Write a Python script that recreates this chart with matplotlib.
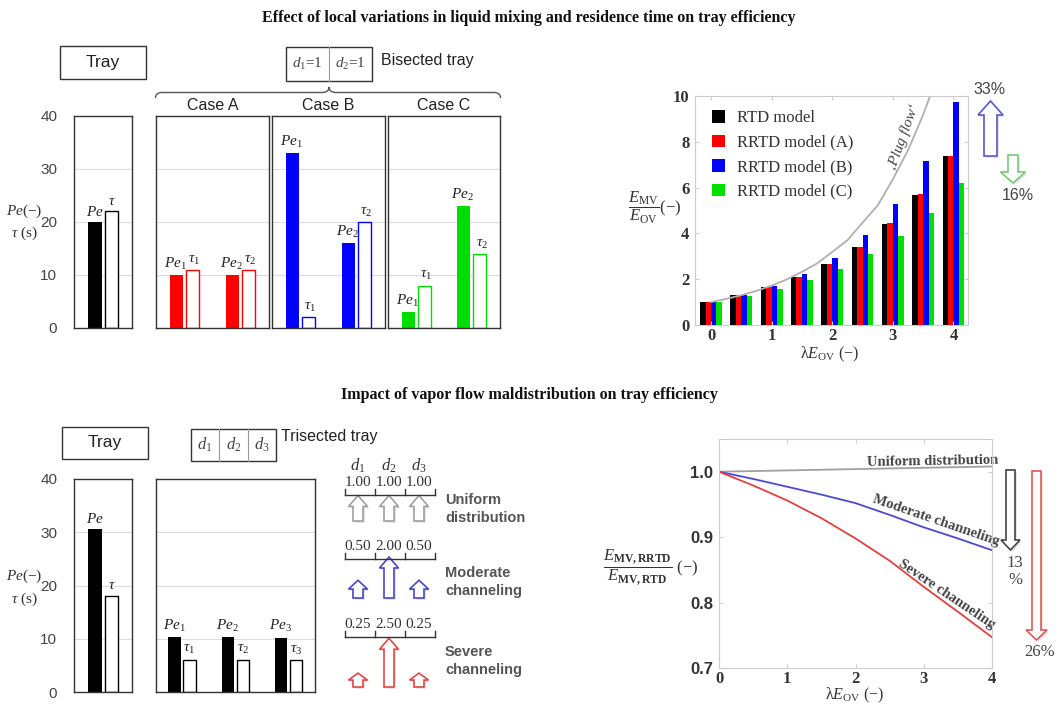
import matplotlib
matplotlib.use('Agg')
import matplotlib.pyplot as plt
from matplotlib.patches import Rectangle, Polygon, PathPatch
from matplotlib.path import Path

W, H = 1058, 704
plt.rcParams['mathtext.fontset'] = 'custom'
plt.rcParams['mathtext.rm'] = 'Liberation Serif'
plt.rcParams['mathtext.it'] = 'Liberation Serif:italic'
plt.rcParams['mathtext.bf'] = 'Liberation Serif:bold'
SERIF = ['Liberation Serif', 'DejaVu Serif']
SANS = ['Liberation Sans', 'DejaVu Sans']

# ---------------- data ----------------
title_top = 'Effect of local variations in liquid mixing and residence time on tray efficiency'
title_bottom = 'Impact of vapor flow maldistribution on tray efficiency'

tray_top = [20, 22]            # Pe, tau of single tray (top)
caseA_pe = [10, 10]
caseA_tau = [11, 11]
caseB_pe = [33, 16]
caseB_tau = [2, 20]
caseC_pe = [3, 23]
caseC_tau = [8, 14]
case_names = ['Case A', 'Case B', 'Case C']
case_colors = ['#ff0000', '#0000ff', '#00dd00']

lam = [0, 0.5, 1, 1.5, 2, 2.5, 3, 3.5, 4]
rtd = [1.0, 1.30, 1.66, 2.10, 2.65, 3.41, 4.43, 5.68, 7.37]
rrtd_a = [1.0, 1.30, 1.66, 2.10, 2.65, 3.41, 4.44, 5.72, 7.40]
rrtd_b = [1.0, 1.32, 1.72, 2.22, 2.93, 3.92, 5.27, 7.16, 9.75]
rrtd_c = [1.0, 1.28, 1.58, 1.98, 2.45, 3.08, 3.88, 4.90, 6.20]
series_labels = ['RTD model', 'RRTD model (A)', 'RRTD model (B)', 'RRTD model (C)']
series_colors = ['#000000', '#ff0000', '#0000ff', '#00e000']
plug_lam = [0, 0.25, 0.5, 0.75, 1, 1.25, 1.5, 1.75, 2, 2.25, 2.5, 2.75, 3, 3.25, 3.5, 3.62]
plug_val = [1.0, 1.14, 1.30, 1.49, 1.72, 1.99, 2.32, 2.69, 3.19, 3.70, 4.47, 5.22, 6.36, 7.63, 9.18, 10.04]

tray_bottom = [30.6, 18.1]
tri_pe = [10.3, 10.3, 10.2]
tri_tau = [6.1, 6.1, 6.0]

dist_rows = ['Uniform\ndistribution', 'Moderate\nchanneling', 'Severe\nchanneling']
dist_uniform = [1.00, 1.00, 1.00]
dist_moderate = [0.50, 2.00, 0.50]
dist_severe = [0.25, 2.50, 0.25]
dist_colors = ['#a0a0a0', '#4848c8', '#e04848']

lam2 = [0, 0.5, 1, 1.5, 2, 2.5, 3, 3.5, 4]
eff_uniform = [1.0, 1.001, 1.002, 1.003, 1.004, 1.005, 1.006, 1.007, 1.008]
eff_moderate = [1.0, 0.989, 0.977, 0.965, 0.952, 0.934, 0.915, 0.898, 0.880]
eff_severe = [1.0, 0.979, 0.956, 0.929, 0.898, 0.864, 0.824, 0.786, 0.747]

# ---------------- figure ----------------
fig = plt.figure(figsize=(W / 100, H / 100), dpi=100)
ax0 = fig.add_axes([0, 0, 1, 1])
ax0.set_xlim(0, W)
ax0.set_ylim(H, 0)
ax0.axis('off')


def px_axes(x0, y0, x1, y1):
    a = fig.add_axes([x0 / W, 1 - y1 / H, (x1 - x0) / W, (y1 - y0) / H])
    a.set_facecolor('none')
    return a


def hollow_arrow(cx, base, tip, sw, hw, hl, ec, lw=1.2):
    d = 1 if tip > base else -1
    neck = tip - d * hl
    pts = [(cx - sw / 2, base), (cx - sw / 2, neck), (cx - hw / 2, neck), (cx, tip),
           (cx + hw / 2, neck), (cx + sw / 2, neck), (cx + sw / 2, base)]
    ax0.add_patch(Polygon([(x + 2, y + 2) for x, y in pts], closed=True, fc='black',
                          ec='none', alpha=0.10))
    ax0.add_patch(Polygon(pts, closed=True, fc='white', ec=ec, lw=lw, joinstyle='miter'))


def bar_panel(ax, xlim, show_ticks):
    ax.set_ylim(0, 40)
    ax.set_xlim(*xlim)
    ax.set_yticks([0, 10, 20, 30, 40])
    ax.set_xticks([])
    ax.yaxis.grid(True, color='#dcdcdc', lw=0.8)
    ax.set_axisbelow(True)
    ax.tick_params(axis='y', length=0, labelleft=show_ticks, pad=12,
                   labelsize=11, labelcolor='#444444')
    for lab in ax.get_yticklabels():
        lab.set_family(SANS)
    for s in ax.spines.values():
        s.set_color('#333333')
        s.set_linewidth(1.0)


def blabel(ax, x, y, s):
    ax.text(x, y + 0.6, s, ha='center', va='bottom', fontsize=11, color='#222222')


W_BAR = 0.82
# ---- top left: tray ----
axT = px_axes(74, 116, 132, 328)
bar_panel(axT, (-1.27, 2.24), True)
axT.bar(0, tray_top[0], W_BAR, color='black')
axT.bar(1, tray_top[1], W_BAR, facecolor='white', edgecolor='black', lw=1)
blabel(axT, 0, tray_top[0], r'$Pe$')
blabel(axT, 1, tray_top[1], r'$\tau$')

case_data = [(caseA_pe, caseA_tau), (caseB_pe, caseB_tau), (caseC_pe, caseC_tau)]
case_boxes = [(156, 269), (272, 385), (388, 500)]
pe_pos = [0, 3.5]
tau_pos = [1, 4.5]
for (pe, tau), (x0, x1), col, name in zip(case_data, case_boxes, case_colors, case_names):
    ax = px_axes(x0, 116, x1, 328)
    bar_panel(ax, (-1.28, 5.78), False)
    ax.bar(pe_pos, pe, W_BAR, color=col)
    ax.bar(tau_pos, tau, W_BAR, facecolor='white', edgecolor=col, lw=1)
    for i in range(2):
        blabel(ax, pe_pos[i] - 0.08, pe[i], r'$Pe_%d$' % (i + 1))
        blabel(ax, tau_pos[i] + 0.12, tau[i], r'$\tau_%d$' % (i + 1))
    ax0.text((x0 + x1) / 2, 106, name, ha='center', va='center', fontsize=11.5,
             family=SANS, color='#222222')

# top-left annotations
ax0.text(24, 211, r'$Pe$(−)', ha='center', va='center', fontsize=11, family=SERIF, color='#333')
ax0.text(24, 233, r'$\tau$ (s)', ha='center', va='center', fontsize=11, family=SERIF, color='#333')
ax0.add_patch(Rectangle((60, 46), 86, 33, fill=False, ec='#333', lw=1))
ax0.text(103, 62, 'Tray', ha='center', va='center', fontsize=12.5, family=SANS, color='#222')
ax0.add_patch(Rectangle((286, 47), 86, 34, fill=False, ec='#333', lw=1))
ax0.plot([329, 329], [47, 81], color='#999', lw=0.8)
ax0.text(307.5, 64, r'$d_1$=1', ha='center', va='center', fontsize=11, family=SERIF, color='#444')
ax0.text(350.5, 64, r'$d_2$=1', ha='center', va='center', fontsize=11, family=SERIF, color='#444')
ax0.text(381, 61, 'Bisected tray', ha='left', va='center', fontsize=11.5, family=SANS, color='#222')
verts = [(155.5, 98), (155.5, 92.5), (162, 92.5), (322, 92.5), (329, 92.5), (329, 87),
         (329, 92.5), (336, 92.5), (494, 92.5), (500.5, 92.5), (500.5, 98)]
codes = [Path.MOVETO, Path.CURVE3, Path.CURVE3, Path.LINETO, Path.CURVE3, Path.CURVE3,
         Path.CURVE3, Path.CURVE3, Path.LINETO, Path.CURVE3, Path.CURVE3]
ax0.add_patch(PathPatch(Path(verts, codes), fill=False, ec='#555', lw=1))

# ---- top right: bar chart ----
axR = px_axes(695, 96, 968, 325)
offsets = [-0.135, -0.045, 0.045, 0.135]
for vals, lab, col, off in zip([rtd, rrtd_a, rrtd_b, rrtd_c], series_labels, series_colors, offsets):
    axR.bar([l + off for l in lam], vals, 0.09, color=col, label=lab)
axR.plot(plug_lam, plug_val, color='#b0b0b0', lw=1.3)
axR.set_xlim(-0.264, 4.24)
axR.set_ylim(0, 10)
axR.set_xticks([0, 1, 2, 3, 4])
axR.set_yticks([0, 2, 4, 6, 8, 10])
axR.tick_params(direction='in', length=3, color='#cccccc', top=True, right=True,
                labelsize=12, labelcolor='#333333', pad=4)
axR.tick_params(axis='x', pad=2)
for lab in axR.get_yticklabels():
    lab.set_family(SERIF)
    lab.set_weight('bold')
for lab in axR.get_xticklabels():
    lab.set_family(SERIF)
    lab.set_weight('bold')
for s in axR.spines.values():
    s.set_color('#cccccc')
leg = axR.legend(loc='upper left', bbox_to_anchor=(0.03, 0.975), frameon=False,
                 handlelength=0.8, handleheight=0.8, handletextpad=0.7, labelspacing=0.5,
                 borderpad=0, prop={'family': SERIF, 'size': 12})
for t in leg.get_texts():
    t.set_color('#333333')
ax0.text(903, 137, '‚Plug flow‘', rotation=70, ha='center', va='center', fontsize=11,
         family=SERIF, style='italic', color='#444')
ax0.text(681, 208, r'$\dfrac{E_{\mathrm{MV}}}{E_{\mathrm{OV}}}$(−)', ha='right', va='center',
         fontsize=12, family=SERIF, color='#333')
ax0.text(830, 354, r'λ$E_{\mathrm{OV}}$ (−)', ha='center', va='center', fontsize=11.5,
         family=SERIF, color='#333')
hollow_arrow(990.5, 156, 101, 13, 25, 14, '#5858c8')
hollow_arrow(1013, 155, 183, 10, 25, 11, '#78c878')
ax0.text(990, 90, '33%', ha='center', va='center', fontsize=11.5, family=SANS, color='#444')
ax0.text(1018, 195, '16%', ha='center', va='center', fontsize=11.5, family=SANS, color='#444')

# ---- titles ----
ax0.text(529, 18, title_top, ha='center', va='center', fontsize=11.5, weight='bold',
         family=SERIF, color='#111')
ax0.text(529, 395, title_bottom, ha='center', va='center', fontsize=11.5, weight='bold',
         family=SERIF, color='#111')

# ---- bottom left ----
axB = px_axes(74, 479, 132, 692)
bar_panel(axB, (-1.27, 2.24), True)
axB.bar(0, tray_bottom[0], W_BAR, color='black')
axB.bar(1, tray_bottom[1], W_BAR, facecolor='white', edgecolor='black', lw=1)
blabel(axB, 0, tray_bottom[0], r'$Pe$')
blabel(axB, 1, tray_bottom[1], r'$\tau$')

axB2 = px_axes(156, 479, 315, 692)
bar_panel(axB2, (-1.23, 9.37), False)
tri_pe_pos = [0, 3.55, 7.1]
tri_tau_pos = [1, 4.55, 8.1]
axB2.bar(tri_pe_pos, tri_pe, W_BAR, color='black')
axB2.bar(tri_tau_pos, tri_tau, W_BAR, facecolor='white', edgecolor='black', lw=1)
for i in range(3):
    blabel(axB2, tri_pe_pos[i], tri_pe[i], r'$Pe_%d$' % (i + 1))
    blabel(axB2, tri_tau_pos[i], tri_tau[i], r'$\tau_%d$' % (i + 1))

ax0.text(24, 576, r'$Pe$(−)', ha='center', va='center', fontsize=11, family=SERIF, color='#333')
ax0.text(24, 599, r'$\tau$ (s)', ha='center', va='center', fontsize=11, family=SERIF, color='#333')
ax0.add_patch(Rectangle((62, 427), 86, 32, fill=False, ec='#333', lw=1))
ax0.text(105, 443, 'Tray', ha='center', va='center', fontsize=12.5, family=SANS, color='#222')
ax0.add_patch(Rectangle((191, 429), 85, 32, fill=False, ec='#333', lw=1))
ax0.plot([219, 219], [429, 461], color='#999', lw=0.8)
ax0.plot([248, 248], [429, 461], color='#999', lw=0.8)
for xx, s in zip([205, 233.5, 262], [r'$d_1$', r'$d_2$', r'$d_3$']):
    ax0.text(xx, 445, s, ha='center', va='center', fontsize=12, family=SERIF, color='#444')
ax0.text(281, 436, 'Trisected tray', ha='left', va='center', fontsize=11.5, family=SANS, color='#222')

# distribution arrows
col_x = [358, 389, 419]
for xx, s in zip(col_x, [r'$d_1$', r'$d_2$', r'$d_3$']):
    ax0.text(xx, 466, s, ha='center', va='center', fontsize=12, family=SERIF, color='#333')
row_num_y = [483, 547, 625]
row_bar_y = [495, 559, 637]
row_base = [521, 598, 687]
row_label_y = [509, 582, 661]
for vals, ny, by, base, ly, col, name in zip([dist_uniform, dist_moderate, dist_severe],
                                               row_num_y, row_bar_y, row_base, row_label_y,
                                               dist_colors, dist_rows):
    ax0.plot([345, 435], [by, by], color='#333', lw=1)
    for tx in [345, 374.5, 404.5, 435]:
        ax0.plot([tx, tx], [by, by - 6], color='#333', lw=1)
    for xx, v in zip(col_x, vals):
        ax0.text(xx, ny, '%.2f' % v, ha='center', va='center', fontsize=11,
                 family=SERIF, color='#333')
        length = 10 + 15.5 * v
        hollow_arrow(xx, base, base - length, 10, 19, min(11, 0.5 * length), col)
    ax0.text(445, ly, name, ha='left', va='center', fontsize=10.5, family=SANS,
             weight='bold', color='#555', linespacing=1.3)

# ---- bottom right: line chart ----
axL = px_axes(719, 439, 992, 668)
axL.plot(lam2, eff_uniform, color='#a0a0a0', lw=1.3)
axL.plot(lam2, eff_moderate, color='#4a4ad0', lw=1.3)
axL.plot(lam2, eff_severe, color='#e04040', lw=1.3)
axL.set_xlim(0, 4)
axL.set_ylim(0.7, 1.05)
axL.set_xticks([0, 1, 2, 3, 4])
axL.set_yticks([0.7, 0.8, 0.9, 1.0])
axL.set_yticklabels(['0.7', '0.8', '0.9', '1.0'])
axL.tick_params(direction='in', length=3, color='#cccccc', top=True, right=True,
                labelsize=12, labelcolor='#333333', pad=4)
axL.tick_params(axis='x', pad=2)
for lab in axL.get_yticklabels():
    lab.set_family(SANS)
    lab.set_weight('bold')
for lab in axL.get_xticklabels():
    lab.set_family(SERIF)
    lab.set_weight('bold')
for s in axL.spines.values():
    s.set_color('#cccccc')
ax0.text(933, 461, 'Uniform distribution', ha='center', va='center', fontsize=10.5,
         family=SERIF, weight='bold', color='#444', rotation=1)
ax0.text(936, 521, 'Moderate channeling', ha='center', va='center', fontsize=10.5,
         family=SERIF, weight='bold', color='#444', rotation=-19)
ax0.text(947, 594, 'Severe channeling', ha='center', va='center', fontsize=10.5,
         family=SERIF, weight='bold', color='#444', rotation=-34)
ax0.text(699, 567, r'$\dfrac{E_{\mathbf{MV,RRTD}}}{E_{\mathbf{MV,RTD}}}$ (−)', ha='right',
         va='center', fontsize=12, family=SERIF, color='#333')
ax0.text(855, 695, r'λ$E_{\mathrm{OV}}$ (−)', ha='center', va='center', fontsize=11.5,
         family=SERIF, color='#333')
hollow_arrow(1010.5, 470, 550, 9, 19, 10, '#444444')
hollow_arrow(1036.5, 471, 640, 9, 21, 10, '#e05555')
ax0.text(1015, 563, '13', ha='center', va='center', fontsize=12, family=SERIF, color='#444')
ax0.text(1015, 580, '%', ha='center', va='center', fontsize=12, family=SERIF, color='#444')
ax0.text(1040, 652, '26%', ha='center', va='center', fontsize=12, family=SERIF, color='#444')

fig.savefig('out.png', dpi=100)
